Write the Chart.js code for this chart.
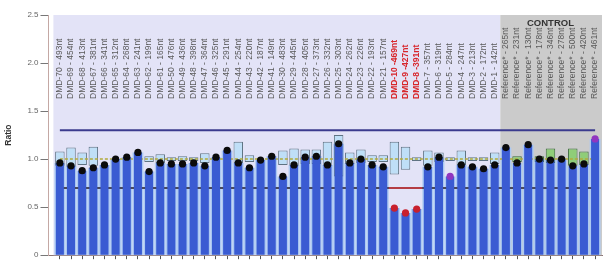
<!DOCTYPE html>
<html><head><meta charset="utf-8">
<script src="https://cdn.jsdelivr.net/npm/chart.js@4"></script>
<style>html,body{margin:0;padding:0;background:#fff}#wrap{width:606px;height:262px}</style>
</head><body><div id="wrap"><canvas id="c" width="606" height="262"></canvas></div>
<script>
const categories = [
 'DMD-70 - 493nt','DMD-69 - 454nt','DMD-68 - 413nt','DMD-67 - 381nt','DMD-66 - 341nt',
 'DMD-65 - 312nt','DMD-64 - 268nt','DMD-63 - 241nt','DMD-62 - 199nt','DMD-61 - 165nt',
 'DMD-50 - 476nt','DMD-49 - 436nt','DMD-48 - 398nt','DMD-47 - 364nt','DMD-46 - 325nt',
 'DMD-45 - 291nt','DMD-44 - 254nt','DMD-43 - 220nt','DMD-42 - 187nt','DMD-41 - 149nt',
 'DMD-30 - 483nt','DMD-29 - 445nt','DMD-28 - 405nt','DMD-27 - 373nt','DMD-26 - 332nt',
 'DMD-25 - 303nt','DMD-24 - 262nt','DMD-23 - 226nt','DMD-22 - 193nt','DMD-21 - 157nt',
 'DMD-10 -469nt','DMD-9 -427nt','DMD-8 -391nt','DMD-7 - 357nt','DMD-6 - 319nt',
 'DMD-5 - 284nt','DMD-4 - 247nt','DMD-3 - 213nt','DMD-2 - 172nt','DMD-1 - 142nt',
 'Reference* - 265nt','Reference* - 231nt','Reference* - 130nt','Reference* - 178nt','Reference* - 346nt',
 'Reference* - 278nt','Reference* - 500nt','Reference* - 420nt','Reference* - 461nt'
];
const ratios = [
 0.96,0.93,0.88,0.91,0.94, 1.00,1.02,1.07,0.87,0.96,
 0.95,0.95,0.96,0.93,1.02, 1.09,0.96,0.91,0.99,1.03,
 0.82,0.94,1.02,1.03,0.94, 1.16,0.96,1.00,0.94,0.92,
 0.49,0.44,0.48,0.92,1.02, 0.82,0.94,0.92,0.90,0.94,
 1.12,0.96,1.15,1.00,0.99, 1.00,0.93,0.95,1.21
];
const rangeLow = [
 0.93,0.92,0.94,0.93,null, null,null,null,0.97,0.96,
 0.98,0.98,0.98,0.96,null, null,0.96,0.97,null,null,
 0.94,0.93,0.95,0.95,0.93, 0.82,0.95,0.96,0.97,0.97,
 0.84,0.89,0.98,0.93,0.97, 0.98,0.94,0.98,0.98,0.95,
 null,0.97,null,0.97,0.96, null,0.93,0.94,null
];
const rangeHigh = [
 1.08,1.12,1.07,1.13,null, null,null,null,1.03,1.05,
 1.02,1.03,1.02,1.06,null, null,1.18,1.04,null,null,
 1.09,1.11,1.10,1.10,1.18, 1.25,1.07,1.10,1.04,1.04,
 1.18,1.13,1.02,1.09,1.07, 1.02,1.09,1.02,1.02,1.07,
 null,1.03,null,1.03,1.11, null,1.11,1.08,null
];
const deletedProbes = ['DMD-10 -469nt','DMD-9 -427nt','DMD-8 -391nt'];
const borderlineProbes = ['DMD-5 - 284nt','Reference* - 461nt'];
const upperThreshold = 1.3;
const lowerThreshold = 0.7;
const medianRatio = 1.0;
const yTicks = [0, 0.5, 1, 1.5, 2, 2.5];
const controlTitle = 'CONTROL';
const yTitle = 'Ratio';

const idx = categories.map((_, i) => i);
const isControl = c => c.startsWith('Reference');
const deletedIdx = idx.filter(i => deletedProbes.includes(categories[i]));
const firstControl = categories.findIndex(isControl);
const controlIdx = idx.filter(i => isControl(categories[i]));
const FONT = "'Liberation Sans', Arial, sans-serif";

const bgPlugin = {
  id: 'bg',
  beforeDatasetsDraw(chart) {
    const {ctx, chartArea: a, scales: {x}} = chart;
    ctx.save();
    const l = x.getPixelForValue(-0.58), m = x.getPixelForValue(firstControl - 0.5);
    ctx.fillStyle = '#e3e3f7';
    ctx.fillRect(l, a.top, m - l, a.bottom - a.top);
    ctx.fillStyle = '#cbcbcb';
    ctx.fillRect(m, a.top, a.right - m, a.bottom - a.top);
    ctx.restore();
  },
  afterDatasetsDraw(chart) {
    const {ctx, scales: {x}} = chart;
    ctx.save();
    categories.forEach((c, i) => {
      const px = x.getPixelForValue(i);
      const del = deletedProbes.includes(c);
      ctx.save();
      ctx.translate(px, 99);
      ctx.rotate(-Math.PI / 2);
      ctx.font = del ? 'bold 8.5px ' + FONT : '8.5px ' + FONT;
      ctx.fillStyle = del ? '#d8262c' : '#5a5a5a';
      ctx.textAlign = 'left';
      ctx.textBaseline = 'middle';
      ctx.fillText(c, 0, 0);
      ctx.restore();
    });
    const cx = (x.getPixelForValue(controlIdx[0]) + x.getPixelForValue(controlIdx[controlIdx.length - 1])) / 2;
    ctx.font = 'bold 9.5px ' + FONT;
    ctx.fillStyle = '#333';
    ctx.textAlign = 'center';
    ctx.textBaseline = 'middle';
    ctx.fillText(controlTitle, cx, 23);
    ctx.restore();
  }
};

const dotColors = categories.map(c => deletedProbes.includes(c) ? '#c8202e' : borderlineProbes.includes(c) ? '#9136c0' : '#0b0b0b');

new Chart(document.getElementById('c'), {
  type: 'bar',
  data: {
    datasets: [
      { type: 'bar', data: idx.map(i => ({x: i, y: ratios[i]})), backgroundColor: '#abc9f2',
        barPercentage: 0.97, categoryPercentage: 1, grouped: false, order: 10 },
      { type: 'bar', data: idx.map(i => ({x: i, y: rangeLow[i] == null ? null : [rangeLow[i], rangeHigh[i]]})),
        backgroundColor: idx.map(i => isControl(categories[i]) ? '#8fcd78' : '#bfdff7'),
        borderColor: idx.map(i => isControl(categories[i]) ? '#3d6a3d' : '#5f7383'),
        borderWidth: 1, borderSkipped: false, barPercentage: 0.85, categoryPercentage: 1, grouped: false, order: 9 },
      { type: 'line', data: idx.map(i => ({x: i, y: medianRatio})), borderColor: '#b3aa3a', borderWidth: 1.5,
        borderDash: [3, 2], pointRadius: 0, order: 8 },
      { type: 'line', data: idx.map(i => ({x: i, y: lowerThreshold})), borderColor: '#4a4a5c', borderWidth: 2,
        pointRadius: 0, order: 7 },
      { type: 'line', data: [{x: deletedIdx[0] - 0.5, y: lowerThreshold}, {x: deletedIdx[deletedIdx.length - 1] + 0.5, y: lowerThreshold}],
        borderColor: '#d8383c', borderWidth: 1.5, pointRadius: 0, order: 6 },
      { type: 'bar', data: idx.map(i => ({x: i, y: ratios[i]})), backgroundColor: '#3a5bd2',
        barPercentage: 0.72, categoryPercentage: 1, grouped: false, order: 5 },
      { type: 'line', data: idx.map(i => ({x: i, y: upperThreshold})), borderColor: '#3b3b8e', borderWidth: 2,
        pointRadius: 0, order: 4 },
      { type: 'line', showLine: false, data: idx.map(i => ({x: i, y: ratios[i]})), pointRadius: 3.6,
        pointBackgroundColor: dotColors, pointBorderWidth: 0, order: 1 }
    ]
  },
  options: {
    responsive: false, animation: false, devicePixelRatio: 1,
    layout: { padding: { top: 15, right: 0, bottom: 0, left: 0 } },
    plugins: { legend: { display: false }, tooltip: { enabled: false } },
    scales: {
      x: {
        type: 'linear', min: -1.02, max: 48.62, offset: false,
        afterBuildTicks: s => { s.ticks = idx.map(v => ({value: v})); },
        afterFit: s => { s.height = 4.5; },
        ticks: { display: false },
        grid: { offset: false, drawOnChartArea: false, drawTicks: true, tickLength: 4, color: '#555' },
        border: { color: '#8a7474', width: 1 }
      },
      y: {
        min: 0, max: 2.5,
        afterBuildTicks: s => { s.ticks = yTicks.map(v => ({value: v})); },
        afterFit: s => { s.width = 48.5; },
        ticks: { color: '#666', font: { size: 8, family: FONT }, padding: 2 },
        grid: { drawOnChartArea: false, tickLength: 8, color: '#777' },
        border: { color: '#c4a8a4', width: 1 },
        title: { display: true, text: yTitle, color: '#333', font: { size: 8.5, weight: 'bold', family: FONT }, padding: { top: 4, bottom: 0 } }
      }
    }
  },
  plugins: [bgPlugin]
});
</script></body></html>
